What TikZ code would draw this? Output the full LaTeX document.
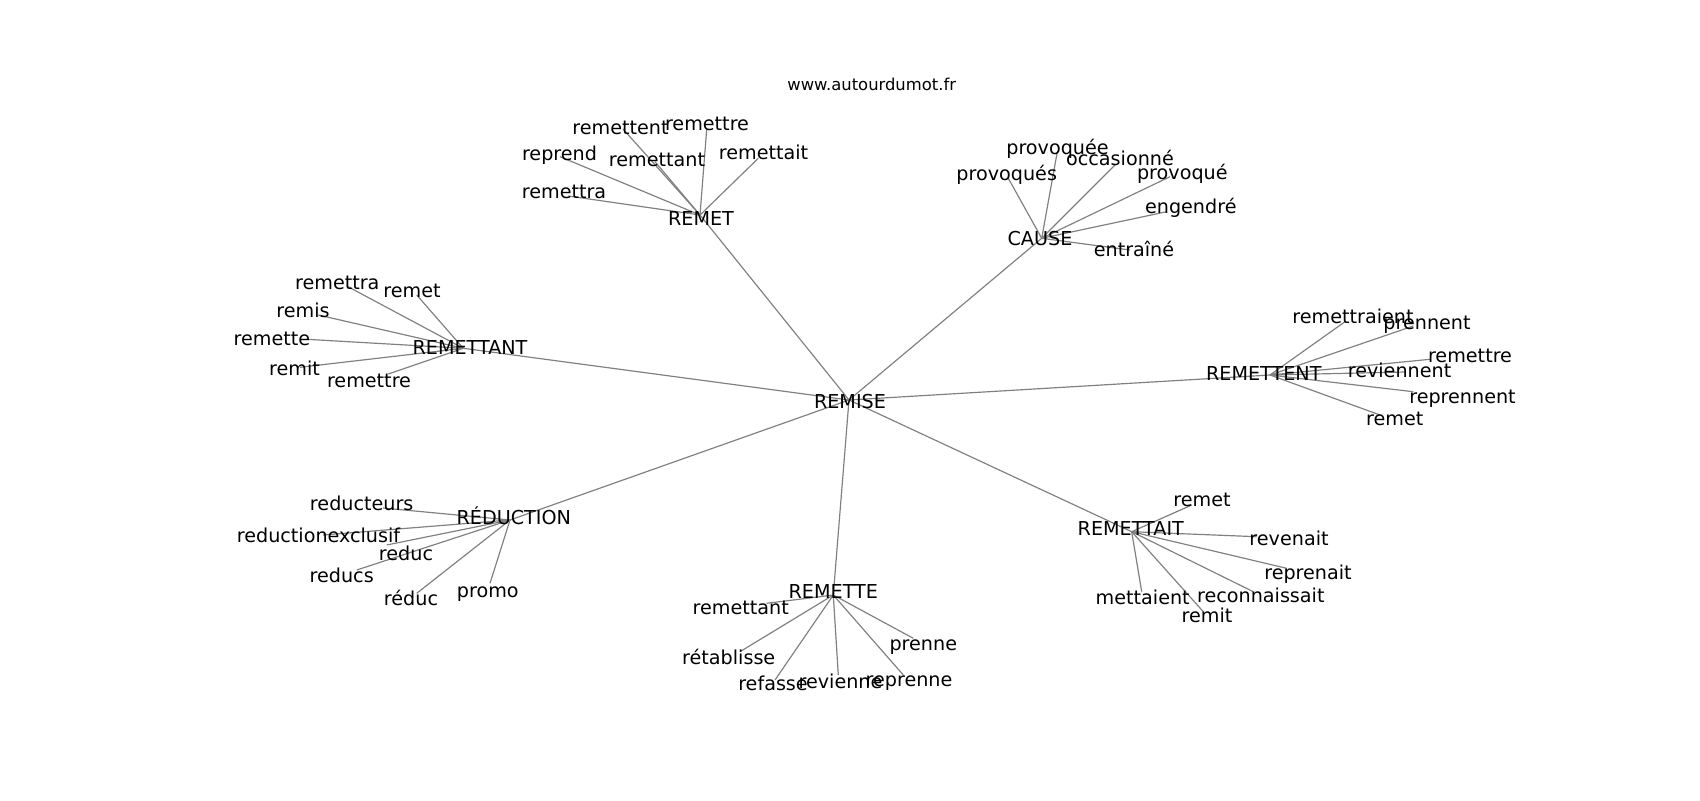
\documentclass[tikz,border=0pt]{standalone}
\usepackage{fontspec}
\setmainfont{DejaVu Sans}
\usetikzlibrary{backgrounds}
\definecolor{edgegray}{RGB}{128,128,128}
\newcommand\wn[4]{%
  \coordinate (#1) at (#2);
  \node[lab] (#1-t) at (#3) {#4};}
\begin{document}
\begin{tikzpicture}[x=0.72pt,y=-0.72pt,
  lab/.style={inner sep=0pt,outer sep=0pt,font=\fontsize{13.8}{16}\selectfont,text height=0.76em,text depth=0pt,anchor=center,yshift=-1.5pt},
  edge/.style={draw=edgegray,line width=0.85pt}]
\useasboundingbox (0,0) rectangle (1700,800);
\node[inner sep=0pt,font=\fontsize{11.8}{14}\selectfont,text height=0.76em,text depth=0pt,yshift=-1.2pt] (title) at (871.7,83.3) {www.autourdumot.fr};
% hub
\wn{hub}{849,400}{850,401}{REMISE}
% REMET
\wn{remet}{700,215}{701,218}{REMET}
\wn{a1}{623,129}{620.5,126.7}{remettent}
\wn{a2}{706.7,129.3}{707,123.3}{remettre}
\wn{a3}{560,156.7}{559.5,153.3}{reprend}
\wn{a4}{655,161.7}{657,159.3}{remettant}
\wn{a5}{758.3,158.3}{763.5,151.7}{remettait}
\wn{a6}{568.3,196}{564,191}{remettra}
% CAUSE
\wn{cause}{1041.7,238.3}{1040,238.3}{CAUSE}
\wn{b1}{1057.3,151.7}{1057.5,146.7}{provoquée}
\wn{b2}{1115,165}{1120,158.3}{occasionné}
\wn{b3}{1008.3,178.3}{1006.7,173.3}{provoqués}
\wn{b4}{1170,176.7}{1182.3,171.7}{provoqué}
\wn{b5}{1166.7,211.7}{1190.8,205.7}{engendré}
\wn{b6}{1130,250}{1134,249.3}{entraîné}
% REMETTANT
\wn{remettant}{463.3,348.3}{470,347.3}{REMETTANT}
\wn{c1}{346.7,286}{337.3,281.7}{remettra}
\wn{c2}{416.7,295}{412,290}{remet}
\wn{c3}{318.3,315}{303,310}{remis}
\wn{c4}{306.7,339.3}{272,338.3}{remette}
\wn{c5}{300,367.3}{294.5,368.3}{remit}
\wn{c6}{388.3,374}{369,380}{remettre}
% REMETTENT
\wn{remettent}{1270,375}{1263.8,373.3}{REMETTENT}
\wn{d1}{1345,321.7}{1353,316}{remettraient}
\wn{d2}{1413.3,326}{1427,321.7}{prennent}
\wn{d3}{1430,359.3}{1470,355}{remettre}
\wn{d4}{1405,372}{1399.5,370}{reviennent}
\wn{d5}{1413.3,391.7}{1462.5,396}{reprennent}
\wn{d6}{1380,415}{1394.7,418.3}{remet}
% REDUCTION
\wn{reduction}{510,520}{513.8,516.7}{RÉDUCTION}
\wn{e1}{383,508}{361.7,503.3}{reducteurs}
\wn{e2}{323,535}{318.5,535}{reductionexclusif}
\wn{e3}{386.7,545}{406,553.3}{reduc}
\wn{e4}{356.7,570}{341.7,575}{reducs}
\wn{e5}{416.7,593.3}{411,598.3}{réduc}
\wn{e6}{490,583.3}{487.8,590}{promo}
% REMETTE
\wn{remette}{833.3,595}{833.3,591}{REMETTE}
\wn{f1}{766.7,603.3}{740.8,606.7}{remettant}
\wn{f2}{740,651.7}{728.7,656.7}{rétablisse}
\wn{f3}{775,680}{773,683.3}{refasse}
\wn{f4}{838.3,675}{840.5,681}{revienne}
\wn{f5}{903.3,675}{909,679.3}{reprenne}
\wn{f6}{913.3,638.3}{923.3,643.3}{prenne}
% REMETTAIT
\wn{remettait}{1131.7,531.7}{1130.8,528.3}{REMETTAIT}
\wn{g1}{1191.7,505}{1202,499.3}{remet}
\wn{g2}{1256.7,536.7}{1289,538.3}{revenait}
\wn{g3}{1286.7,568.3}{1308,571.7}{reprenait}
\wn{g4}{1253.3,591.7}{1260.8,595}{reconnaissait}
\wn{g5}{1141.7,591.7}{1142.7,596.7}{mettaient}
\wn{g6}{1203.3,611.7}{1207,615}{remit}
\begin{pgfonlayer}{background}
\foreach \h in {remet,cause,remettant,remettent,reduction,remette,remettait}
  \draw[edge] (hub) -- (\h);
\foreach \i in {1,...,6} {
  \draw[edge] (remet) -- (a\i);
  \draw[edge] (cause) -- (b\i);
  \draw[edge] (remettant) -- (c\i);
  \draw[edge] (remettent) -- (d\i);
  \draw[edge] (reduction) -- (e\i);
  \draw[edge] (remette) -- (f\i);
  \draw[edge] (remettait) -- (g\i);
}
\end{pgfonlayer}
\end{tikzpicture}
\end{document}
